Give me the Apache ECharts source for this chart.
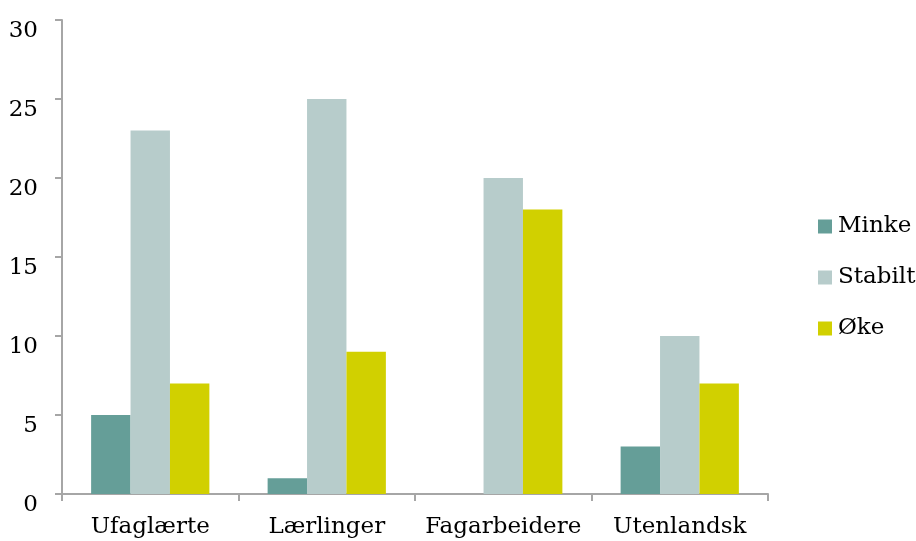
<!DOCTYPE html>
<html>
<head>
<meta charset="utf-8">
<script src="https://cdn.jsdelivr.net/npm/echarts@6/dist/echarts.min.js"></script>
<style>
  html, body { margin: 0; padding: 0; background: #fff; }
  #chart { width: 916px; height: 541px; }
</style>
</head>
<body>
<div id="chart"></div>
<script>
// Categories and series values
const categories = ['Ufaglærte', 'Lærlinger', 'Fagarbeidere', 'Utenlandsk'];
const minke = [5, 1, 0, 3];
const stabilt = [23, 25, 20, 10];
const oke = [7, 9, 18, 7];
const yTicks = { min: 0, max: 30, interval: 5 };

const fontFamily = '"DejaVu Serif", "Liberation Serif", serif';
const axisColor = '#a6a6a6';

const chart = echarts.init(document.getElementById('chart'), null, { renderer: 'canvas' });
chart.setOption({
  animation: false,
  textStyle: { fontFamily: fontFamily, color: '#000' },
  grid: { left: 62, right: 148, top: 20, bottom: 47, containLabel: false },
  legend: {
    orient: 'vertical',
    left: 813,
    top: 210,
    itemWidth: 14,
    itemHeight: 14,
    itemGap: 28,
    icon: 'rect',
    textStyle: { fontFamily: fontFamily, fontSize: 23, color: '#000', padding: [0, 0, 0, 1] },
    data: ['Minke', 'Stabilt', 'Øke']
  },
  xAxis: {
    type: 'category',
    data: categories,
    axisLine: { lineStyle: { color: axisColor, width: 2 } },
    axisTick: { show: true, length: 7, lineStyle: { color: axisColor, width: 2 } },
    axisLabel: { color: '#000', fontSize: 23, margin: 22, interval: 0, fontFamily: fontFamily }
  },
  yAxis: {
    type: 'value',
    min: yTicks.min,
    max: yTicks.max,
    interval: yTicks.interval,
    splitLine: { show: false },
    axisLine: { show: true, lineStyle: { color: axisColor, width: 2 } },
    axisTick: { show: true, length: 7, lineStyle: { color: axisColor, width: 2 } },
    // labels sit slightly below their ticks
    axisLabel: {
      color: '#000', fontSize: 23, margin: 24, fontFamily: fontFamily,
      formatter: function (v) { return '{n|' + v + '}'; },
      rich: { n: { fontSize: 23, fontFamily: fontFamily, color: '#000', padding: [22, 0, 0, 0] } }
    }
  },
  series: [
    { name: 'Minke', type: 'bar', data: minke, barGap: '0%', barCategoryGap: '33%', itemStyle: { color: '#659e98' } },
    { name: 'Stabilt', type: 'bar', data: stabilt, barGap: '0%', barCategoryGap: '33%', itemStyle: { color: '#b7cccb' } },
    { name: 'Øke', type: 'bar', data: oke, barGap: '0%', barCategoryGap: '33%', itemStyle: { color: '#d1d000' } }
  ]
});
</script>
</body>
</html>
